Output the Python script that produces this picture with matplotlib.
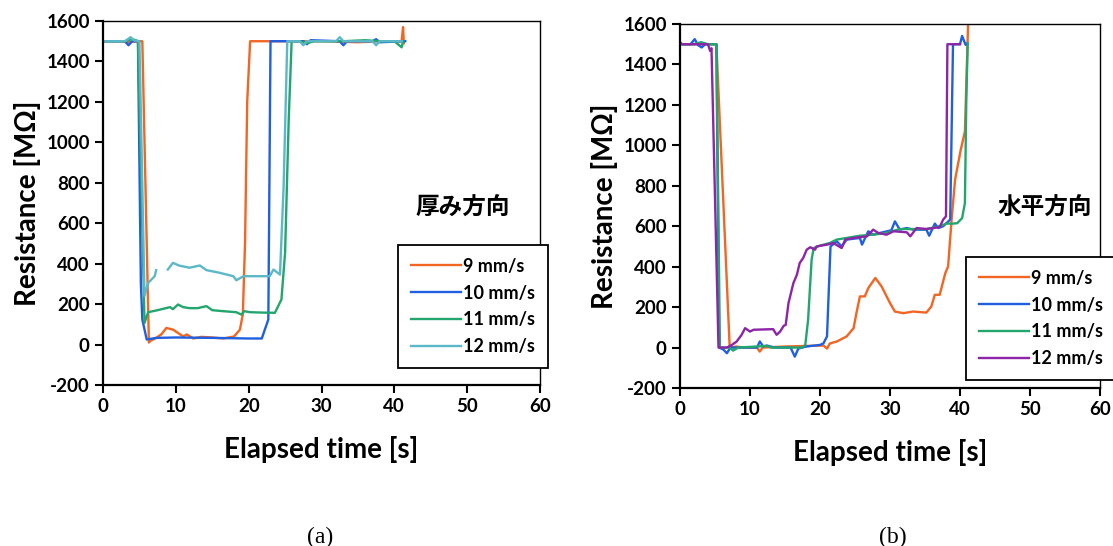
import numpy as np
import matplotlib.pyplot as plt

plt.rcParams['font.family'] = ['Lato', 'Noto Sans CJK JP', 'DejaVu Sans']
plt.rcParams['axes.unicode_minus'] = False

nan = np.nan

# ---- (a) 厚み方向 ----
t9a = [0, 2, 3.5, 5.0, 5.4, 6.3, 6.5, 7.3, 8.0, 8.7, 9.6, 10.6, 11.0, 11.5, 12.4, 13.5, 15, 16.5,
       18.0, 18.8, 19.2, 19.5, 19.8, 20.2, 25, 30, 35, 38, 40.8, 41.0, 41.2, 41.3]
r9a = [1500, 1500, 1495, 1500, 1500, 10, 18, 33, 50, 82, 74, 50, 40, 50, 30, 38, 35, 30,
       40, 74, 150, 500, 1200, 1500, 1500, 1500, 1495, 1500, 1500, 1500, 1570, 1490]

t10a = [0, 2, 3.0, 3.5, 4.0, 4.8, 5.2, 5.4, 6.0, 7.3, 10, 15, 20, 21.8, 22.7, 23.0, 24,
        27.5, 28, 28.5, 32.5, 33, 33.5, 37, 37.5, 38, 41.5]
r10a = [1500, 1500, 1500, 1480, 1500, 1500, 300, 124, 25, 33, 35, 33, 30, 30, 124, 1500, 1500,
        1500, 1485, 1505, 1500, 1480, 1500, 1500, 1510, 1495, 1500]

t11a = [0, 3, 4.0, 4.5, 4.8, 5.7, 6.2, 7.5, 9.2, 9.6, 10.3, 11.0, 11.9, 13.0, 14.2, 15.0, 16.5,
        18.3, 19.0, 19.4, 20.2, 22, 23.6, 24.5, 25.0, 25.5, 25.9, 27, 28, 29, 33, 36, 38, 40, 41, 41.2]
r11a = [1500, 1500, 1510, 1505, 1500, 107, 160, 170, 185, 175, 198, 185, 180, 180, 190, 170, 165,
        160, 148, 165, 160, 158, 157, 223, 454, 1114, 1500, 1500, 1490, 1500, 1500, 1505, 1500, 1500, 1470, 1500]

t12a = [0, 3, 3.8, 4.2, 5.0, 5.7, 6.2, 7.1, 7.3, nan, 8.9, 9.6, 10.5, 11.9, 13.3, 14.2, 16, 17.9,
        18.3, 19.3, 22.9, 23.4, 24.3, 24.8, 25.3, 27, 27.5, 28, 32, 32.5, 33, 37, 37.5, 38, 41]
r12a = [1500, 1500, 1520, 1505, 1500, 240, 305, 338, 368, nan, 371, 404, 390, 380, 391, 368, 355, 338,
        318, 338, 338, 371, 346, 784, 1500, 1500, 1480, 1500, 1500, 1520, 1500, 1500, 1480, 1500, 1500]

# ---- (b) 水平方向 ----
t9b = [0, 3, 5.2, 7.1, 8.1, 9, 11.0, 11.4, 11.8, 15, 18, 20.5, 21.0, 21.4, 22.4, 23.8, 24.8, 25.2,
       25.7, 26.4, 26.9, 27.9, 28.8, 30.0, 30.7, 31.9, 33.3, 35.2, 35.9, 36.4, 37.1, 37.9, 38.3,
       38.8, 39.3, 40.1, 40.7, 41.2]
r9b = [1500, 1500, 1500, 0, 5, 0, 0, -20, 0, 5, 8, 10, -5, 20, 30, 55, 96, 170,
       253, 253, 294, 344, 302, 220, 178, 170, 178, 173, 203, 261, 261, 368, 401,
       633, 831, 977, 1068, 1650]

t10b = [0, 1.5, 2.1, 2.6, 3.1, 3.6, 5.2, 5.6, 6.2, 6.7, 7.2, 8, 11.0, 11.4, 11.9, 12.4, 13.5,
        15.8, 16.4, 16.9, 18, 20.0, 20.5, 21.0, 21.5, 22.4, 23.1, 23.8, 25.7, 26.0, 26.9, 27.6,
        28.6, 30.2, 30.7, 31.4, 32.4, 33.3, 35.2, 35.6, 36.4, 36.9, 37.6, 38.6, 39.0, 40.0,
        40.3, 40.8, 40.9]
r10b = [1500, 1500, 1525, 1495, 1484, 1500, 1500, 0, -10, -28, 0, 0, 0, 30, 5, 10, 0,
        0, -45, -5, 5, 13, 21, 55, 500, 525, 500, 534, 542, 509, 575, 558,
        567, 580, 624, 583, 591, 583, 583, 553, 613, 591, 600, 633, 1500, 1500,
        1541, 1497, 1500]

t11b = [0, 2, 3, 4, 5.2, 5.7, 7.0, 7.6, 8.3, 12.4, 13, 17.5, 17.9, 18.3, 18.8, 19.1, 20.0, 21.4,
        22.4, 23.8, 25.7, 27.6, 29.5, 31.4, 33.3, 35.2, 37.1, 38.1, 39.0, 39.6, 40.3, 40.7, 40.9, 41.1]
r11b = [1500, 1500, 1510, 1500, 1500, 0, 0, -15, 0, 8, 0, 0, 13, 137, 434, 492, 504, 517,
        534, 542, 553, 558, 567, 586, 586, 586, 600, 613, 613, 615, 640, 714, 1225, 1505]

t12b = [0, 0.3, 2, 4.0, 4.3, 4.5, 5.5, 6.7, 7.4, 8.1, 8.8, 9.3, 10.0, 10.5, 13.3, 13.8, 14.3, 14.8,
        15.1, 15.5, 16.2, 16.7, 17.1, 17.6, 18.1, 18.6, 19.3, 19.5, 21.0, 21.9, 23.1, 23.6, 24.8,
        26.7, 27.6, 28.3, 29.5, 30.5, 32.4, 32.9, 33.8, 35.2, 36.2, 37.1, 37.6, 38.0, 38.2, 40.0]
r12b = [1510, 1500, 1500, 1500, 1467, 1480, 0, 0, 13, 30, 63, 96, 79, 88, 91, 63, 79, 107,
        112, 220, 319, 360, 418, 443, 484, 496, 484, 500, 509, 517, 492, 534, 542,
        550, 583, 567, 558, 575, 570, 550, 591, 586, 591, 596, 633, 649, 1500, 1500]

labels = ["9 mm/s", "10 mm/s", "11 mm/s", "12 mm/s"]
colors_a = ["#F26522", "#1F5FE0", "#22A66E", "#5BB8C8"]
colors_b = ["#F26522", "#1F5FE0", "#22A66E", "#8E24A8"]

fig = plt.figure(figsize=(11.13, 5.46), dpi=100)
ax_a = fig.add_axes([103/1113, 1-385/546, 437/1113, 364/546])
ax_b = fig.add_axes([680/1113, 1-388/546, 420/1113, 364/546])

panels = [
    (ax_a, [(t9a, r9a), (t10a, r10a), (t11a, r11a), (t12a, r12a)], colors_a, "厚み方向",
     (398/1113, 1-245/546), (463/1113, 1-208/546), (320/1113, "(a)")),
    (ax_b, [(t9b, r9b), (t10b, r10b), (t11b, r11b), (t12b, r12b)], colors_b, "水平方向",
     (966/1113, 1-257/546), (1045/1113, 1-208/546), (893/1113, "(b)")),
]

for ax, series, cols, note, leg_xy, note_xy, cap in panels:
    for (t, r), c, lab in zip(series, cols, labels):
        ax.plot(t, r, color=c, lw=1.7, label=lab)
    ax.set_xlim(0, 60)
    ax.set_ylim(-200, 1600)
    ax.set_xticks(range(0, 61, 10))
    ax.set_yticks(range(-200, 1601, 200))
    ax.tick_params(direction="out", length=6, width=1.5, labelsize=13.5)
    for lab in ax.get_xticklabels() + ax.get_yticklabels():
        lab.set_fontweight("bold")
    for side in ["left", "bottom"]:
        ax.spines[side].set_linewidth(1.6)
    for side in ["top", "right"]:
        ax.spines[side].set_linewidth(1.0)
    ax.set_xlabel("Elapsed time [s]", fontsize=20, fontweight="bold", labelpad=15)
    ax.set_ylabel("Resistance [MΩ]", fontsize=20, fontweight="bold", labelpad=4)
    leg = ax.legend(loc="upper left", bbox_to_anchor=leg_xy, bbox_transform=fig.transFigure,
                    frameon=True, fancybox=False, edgecolor="black", fontsize=13,
                    handlelength=2.8, handletextpad=0.1, labelspacing=0.55,
                    borderpad=0.7, borderaxespad=0, framealpha=1)
    leg.get_frame().set_linewidth(1.3)
    for txt in leg.get_texts():
        txt.set_fontweight("bold")
    fig.text(note_xy[0], note_xy[1], note, ha="center", va="center", fontsize=17,
             fontweight="bold", family=["Noto Sans CJK JP", "DejaVu Sans"])
    fig.text(cap[0], 1-537/546, cap[1], ha="center", va="center", fontsize=17,
             family="Liberation Serif")

fig.savefig("out.png", dpi=100)
